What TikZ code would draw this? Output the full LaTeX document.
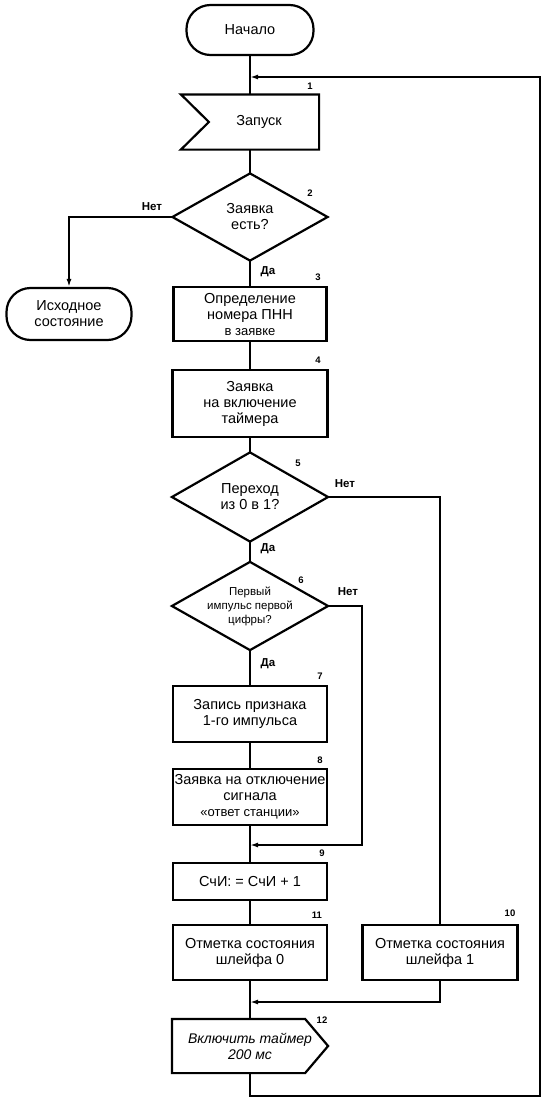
\documentclass[tikz,border=0pt]{standalone}
\usepackage{fontspec}
\setmainfont{Liberation Sans}
\usetikzlibrary{shapes.geometric,arrows.meta}
\begin{document}
\begin{tikzpicture}[x=1pt,y=-1pt,line width=2.2pt,
  txt/.style={font=\fontsize{14.5}{16}\selectfont,align=center,inner sep=0pt},
  term/.style={txt,draw,rounded corners=24pt},
  proc/.style={txt,draw},
  dec/.style={txt},
  shp/.style={txt},
  num/.style={font=\fontsize{9.5}{10}\selectfont\bfseries,inner sep=0pt},
  yn/.style={font=\fontsize{11.5}{12}\selectfont\bfseries,inner sep=0pt},
  arr/.style={-{Latex[length=8pt,width=5pt]}},
  smalltxt/.style={font=\fontsize{13}{14}\selectfont}]
\useasboundingbox (0,0) rectangle (550,1103);

\node[term,minimum width=127pt,minimum height=50pt] (start) at (250,30) {Начало};
\node[shp,minimum width=136pt,minimum height=53pt] (zap) at (250,122) {\hspace*{18pt}Запуск};
\draw (zap.north west) -- (zap.north east) -- (zap.south east) -- (zap.south west) -- ([xshift=28pt]zap.west) -- cycle;
\node[dec,minimum width=153pt,minimum height=85pt] (d2) at (250,217) {Заявка\\есть?};
\draw (d2.north) -- (d2.east) -- (d2.south) -- (d2.west) -- cycle;
\node[term,minimum width=125pt,minimum height=52pt] (init) at (69,314) {Исходное\\состояние};
\node[proc,minimum width=153pt,minimum height=54pt] (b3) at (250,314) {Определение\\номера ПНН\\{\fontsize{13}{14}\selectfont в заявке}};
\node[proc,minimum width=155pt,minimum height=67pt] (b4) at (250,403.5) {Заявка\\на включение\\таймера};
\node[dec,minimum width=154pt,minimum height=87pt] (d5) at (250,497) {Переход\\из 0 в 1?};
\draw (d5.north) -- (d5.east) -- (d5.south) -- (d5.west) -- cycle;
\node[dec,minimum width=154pt,minimum height=86pt,font=\fontsize{11.5}{14}\selectfont] (d6) at (250,606) {Первый\\импульс первой\\цифры?};
\draw (d6.north) -- (d6.east) -- (d6.south) -- (d6.west) -- cycle;
\node[proc,minimum width=154pt,minimum height=56pt] (b7) at (250,714) {Запись признака\\1-го импульса};
\node[proc,minimum width=154pt,minimum height=56pt] (b8) at (250,797) {Заявка на отключение\\сигнала\\{\fontsize{13}{14}\selectfont «ответ станции»}};
\node[proc,minimum width=154pt,minimum height=37pt] (b9) at (250,881.5) {СчИ: = СчИ + 1};
\node[proc,minimum width=154pt,minimum height=55pt] (b11) at (250,952.5) {Отметка состояния\\шлейфа 0};
\node[proc,minimum width=155pt,minimum height=55pt] (b10) at (440,952.5) {Отметка состояния\\шлейфа 1};
\node[shp,minimum width=154pt,minimum height=52pt,font=\fontsize{14}{16}\selectfont\itshape] (b12) at (250,1046) {Включить таймер\\200 мс};
\draw (b12.north west) -- ([xshift=-23pt]b12.north east) -- (b12.east) -- ([xshift=-23pt]b12.south east) -- (b12.south west) -- cycle;

% numbers
\node[num] (n1) at (310,86) {1};
\node[num] (n2) at (310,193) {2};
\node[num] (n3) at (318,277) {3};
\node[num] (n4) at (318,360) {4};
\node[num] (n5) at (298,463) {5};
\node[num] (n6) at (301,580) {6};
\node[num] (n7) at (320,676) {7};
\node[num] (n8) at (320,760) {8};
\node[num] (n9) at (322,853) {9};
\node[num] (n11) at (317,915) {11};
\node[num] (n10) at (510,913) {10};
\node[num] (n12) at (322,1020) {12};

% yes / no
\node[yn] (no2) at (152,207) {Нет};
\node[yn] (yes2) at (268,272) {Да};
\node[yn] (no5) at (345,484) {Нет};
\node[yn] (yes5) at (268,549) {Да};
\node[yn] (no6) at (348,592) {Нет};
\node[yn] (yes6) at (268,664) {Да};

% junctions
\coordinate (j1) at (250,77);
\coordinate (j9) at (250,845);
\coordinate (j12) at (250,1002);
\coordinate (c6) at (362,606);
\coordinate (cb) at (250,1096);
\coordinate (cr) at (540,1096);

% connectors
\draw (start.south) -- (zap.north);
\draw (zap.south) -- (d2.north);
\draw[arr] (d2.west) -| (init.north);
\draw (d2.south) -- (b3.north);
\draw (b3.south) -- (b4.north);
\draw (b4.south) -- (d5.north);
\draw (d5.south) -- (d6.north);
\draw (d5.east) -| (b10.north);
\draw (d6.south) -- (b7.north);
\draw (b7.south) -- (b8.north);
\draw (b8.south) -- (b9.north);
\draw[arr] (d6.east) -- (c6) |- (j9);
\draw (b9.south) -- (b11.north);
\draw (b11.south) -- (b12.north);
\draw[arr] (b10.south) |- (j12);
\draw[arr] (b12.south) -- (cb) -- (cr) |- (j1);
\end{tikzpicture}
\end{document}
